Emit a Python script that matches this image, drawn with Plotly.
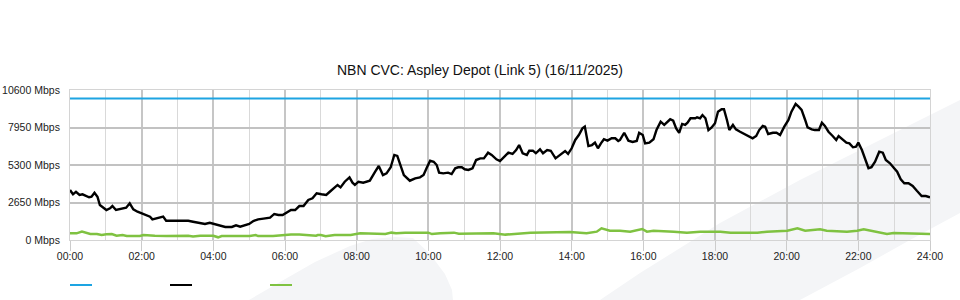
import plotly.graph_objects as go

# ---------------- data ----------------
title_text = "NBN CVC: Aspley Depot (Link 5) (16/11/2025)"

# minutes since midnight for the traffic series
traffic_minutes = [0, 5, 10, 16, 21, 27, 32, 36, 41, 46, 50, 56, 61, 67, 71, 77, 83, 88, 94, 100,
                   106, 113, 120, 128, 134, 138, 144, 150, 156, 161, 167, 179, 190, 198, 206, 218,
                   226, 234, 243, 251, 260, 271, 278, 285, 293, 300, 307, 315, 324, 329, 335, 342,
                   349, 356, 363, 370, 377, 384, 391, 399, 406, 413, 421, 429, 435, 444, 448, 453,
                   460, 468, 473, 477, 483, 491, 502, 511, 517, 524, 530, 537, 543, 548, 553, 559,
                   569, 578, 586, 592, 597, 603, 609, 614, 618, 625, 633, 639, 645, 650, 656, 661,
                   667, 674, 680, 687, 693, 700, 706, 714, 720, 728, 734, 741, 747, 752, 758, 765,
                   769, 775, 780, 787, 792, 799, 805, 813, 820, 829, 834, 840, 846, 852, 858, 862,
                   868, 874, 879, 884, 889, 894, 900, 907, 913, 918, 921, 928, 935, 942, 949, 953,
                   959, 963, 970, 977, 982, 989, 995, 999, 1005, 1010, 1015, 1020, 1025, 1030, 1034,
                   1039, 1047, 1050, 1055, 1059, 1064, 1069, 1074, 1080, 1085, 1091, 1095, 1100,
                   1104, 1110, 1115, 1122, 1129, 1136, 1143, 1149, 1154, 1160, 1164, 1169, 1177,
                   1183, 1189, 1196, 1203, 1208, 1215, 1220, 1225, 1231, 1235, 1242, 1247, 1254,
                   1259, 1264, 1270, 1277, 1283, 1287, 1294, 1300, 1305, 1311, 1316, 1320, 1326,
                   1331, 1337, 1342, 1348, 1355, 1361, 1366, 1373, 1380, 1385, 1391, 1397, 1404,
                   1411, 1418, 1426, 1433, 1440]

# black series (Mbps)
traffic_mbps = [3530, 3230, 3410, 3180, 3230, 3110, 3020, 3060, 3340, 3060, 2470, 2280, 2120, 2240,
                2400, 2120, 2170, 2240, 2280, 2590, 2170, 2000, 1890, 1770, 1650, 1460, 1530, 1580,
                1650, 1360, 1360, 1360, 1340, 1360, 1290, 1220, 1130, 1220, 1110, 1060, 920, 920,
                1040, 940, 1040, 1130, 1340, 1460, 1510, 1550, 1580, 1840, 1770, 1770, 1930, 2120,
                2120, 2400, 2400, 2830, 2950, 3300, 3230, 3180, 3410, 3720, 3890, 3720, 4120, 4430,
                4050, 3890, 4120, 4050, 4190, 4830, 5230, 4590, 4710, 5140, 6010, 5940, 5300, 4590,
                4190, 4360, 4430, 4590, 5070, 5600, 5530, 5300, 4760, 4710, 4760, 4660, 5070, 5140,
                5140, 5000, 4950, 5070, 5650, 5770, 5770, 6170, 6010, 5700, 5580, 5940, 6170, 6080,
                6360, 6710, 6130, 6010, 6310, 6310, 6130, 6410, 6130, 6360, 6310, 5770, 6010, 6290,
                6080, 6480, 7070, 7420, 7890, 8010, 6640, 6710, 6880, 6480, 6830, 7120, 7020, 7190,
                7190, 7000, 7070, 7580, 7020, 6930, 7000, 7580, 7420, 6830, 6880, 7120, 7770, 8360,
                8130, 8290, 8530, 8430, 7890, 7580, 8200, 8130, 8290, 8600, 8600, 8670, 8600, 8830,
                8600, 7770, 7940, 8250, 9070, 9240, 9240, 8480, 7770, 8130, 7820, 7650, 7490, 7350,
                7190, 7350, 7770, 8060, 8010, 7490, 7580, 7580, 7420, 8010, 8480, 9070, 9610, 9420,
                9190, 8480, 7960, 7820, 7770, 7770, 8290, 8060, 7650, 7350, 7070, 7350, 7070, 6880,
                6830, 6550, 6590, 6880, 6360, 5770, 5070, 5140, 5530, 6240, 6170, 5650, 5420, 5070,
                4830, 4290, 4010, 4010, 3820, 3480, 3110, 3110, 3020]

# green series
green_minutes = [0, 11, 20, 27, 34, 45, 53, 61, 70, 78, 88, 95, 117, 123, 134, 142, 162, 190, 198,
                 206, 218, 240, 248, 254, 273, 301, 311, 315, 340, 352, 370, 384, 412, 415, 420,
                 428, 443, 470, 480, 486, 528, 538, 546, 561, 600, 606, 620, 643, 651, 709, 729,
                 749, 771, 837, 865, 882, 890, 904, 918, 921, 938, 958, 966, 977, 1011, 1033,
                 1055, 1089, 1106, 1151, 1167, 1201, 1218, 1231, 1256, 1267, 1301, 1318, 1329,
                 1346, 1368, 1379, 1401, 1410, 1424, 1440]
green_mbps = [470, 470, 590, 520, 420, 420, 350, 400, 420, 300, 350, 280, 280, 350, 350, 300, 280,
              260, 300, 240, 300, 300, 190, 280, 280, 280, 350, 280, 280, 330, 380, 380, 300, 350,
              350, 260, 350, 350, 420, 470, 420, 520, 470, 520, 520, 420, 470, 520, 450, 470, 380,
              470, 520, 570, 470, 590, 830, 660, 660, 660, 590, 780, 590, 660, 590, 520, 590, 590,
              520, 520, 590, 660, 830, 660, 760, 660, 590, 660, 760, 590, 420, 500, 470, 420, 450,
              420]

# blue capacity line
capacity_minutes = [0, 1440]
capacity_mbps = [10000, 10000]

x_tick_vals = [0, 120, 240, 360, 480, 600, 720, 840, 960, 1080, 1200, 1320, 1440]
x_tick_text = ["00:00", "02:00", "04:00", "06:00", "08:00", "10:00", "12:00",
               "14:00", "16:00", "18:00", "20:00", "22:00", "24:00"]
x_minor_vals = [60, 180, 300, 420, 540, 660, 780, 900, 1020, 1140, 1260, 1380]
y_tick_vals = [0, 2650, 5300, 7950, 10600]
y_tick_text = ["0 Mbps", "2650 Mbps", "5300 Mbps", "7950 Mbps", "10600 Mbps"]

colors = {"capacity": "#1da4e2", "traffic": "#000000", "green": "#7fc241"}
FONT = "Liberation Sans, Arial, sans-serif"

# ---------------- figure ----------------
fig = go.Figure()

fig.add_trace(go.Scatter(x=green_minutes, y=green_mbps, mode="lines",
                         line=dict(color=colors["green"], width=2.5), showlegend=False,
                         hoverinfo="skip"))
fig.add_trace(go.Scatter(x=traffic_minutes, y=traffic_mbps, mode="lines",
                         line=dict(color=colors["traffic"], width=2.4), showlegend=False,
                         hoverinfo="skip"))
fig.add_trace(go.Scatter(x=capacity_minutes, y=capacity_mbps, mode="lines",
                         line=dict(color=colors["capacity"], width=2.2), showlegend=False,
                         hoverinfo="skip"))

# helper: pixel -> paper coords (plot area x 70..930, y 90..240)
def px(xp):
    return (xp - 70) / 860.0


def py(yp):
    return (240 - yp) / 150.0


# background watermark shapes
blob = [(249, 300), (280, 282), (315, 262), (350, 246), (372, 239), (395, 237), (413, 238),
        (430, 254), (445, 274), (452, 290), (453, 300)]
band = [(600, 300), (640, 273), (693, 240), (720, 223), (800, 180), (880, 140), (960, 100),
        (960, 213), (910, 240), (860, 268), (800, 300)]


def path_of(pts):
    s = "M " + " L ".join(f"{px(a):.4f},{py(b):.4f}" for a, b in pts) + " Z"
    return s


for pts in (blob, band):
    fig.add_shape(type="path", path=path_of(pts), xref="paper", yref="paper",
                  fillcolor="#f4f5f7", line=dict(width=0), layer="below")

# legend swatches (no labels)
for i, key in enumerate(["capacity", "traffic", "green"]):
    x0 = 70 + 100 * i
    fig.add_shape(type="line", xref="paper", yref="paper",
                  x0=px(x0), x1=px(x0 + 22), y0=py(285), y1=py(285),
                  line=dict(color=colors[key], width=2))

fig.update_layout(
    width=960, height=300,
    margin=dict(l=70, r=30, t=90, b=60, autoexpand=False),
    paper_bgcolor="white", plot_bgcolor="rgba(0,0,0,0)",
    font=dict(family=FONT, size=10.5, color="#222"),
    title=dict(text=title_text, x=0.5, xref="container", xanchor="center",
               y=0.765, yref="container", yanchor="middle",
               font=dict(family=FONT, size=14, color="#111")),
    showlegend=False,
)

fig.update_xaxes(
    range=[0, 1440], tickmode="array", tickvals=x_tick_vals, ticktext=x_tick_text,
    showgrid=True, gridcolor="#c6c6c6", gridwidth=2,
    minor=dict(tickmode="array", tickvals=x_minor_vals, showgrid=True,
               gridcolor="#d9d9d9", gridwidth=1),
    ticks="outside", ticklen=10, tickcolor="#cccccc", tickwidth=1,
    ticklabelstandoff=-4,
    showline=True, mirror=True, linecolor="#d4d4d4", linewidth=1,
    zeroline=False, automargin=False, tickfont=dict(size=10.5, color="#222"),
)
fig.update_yaxes(
    range=[0, 10600], tickmode="array", tickvals=y_tick_vals, ticktext=y_tick_text,
    showgrid=True, gridcolor="#c2c2c2", gridwidth=2,
    ticks="outside", ticklen=7, tickcolor="rgba(0,0,0,0)",
    showline=True, mirror=True, linecolor="#d4d4d4", linewidth=1,
    zeroline=False, automargin=False, tickfont=dict(size=10.5, color="#222"),
)

fig.write_html("out.html")
